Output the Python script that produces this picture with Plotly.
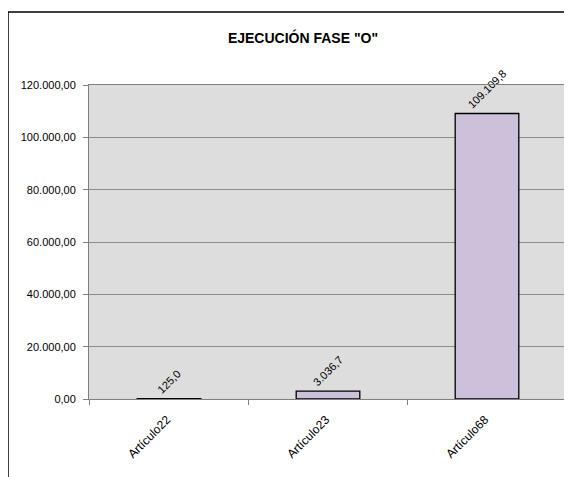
import plotly.graph_objects as go

categories = ["Artículo22", "Artículo23", "Artículo68"]
values = [125.0, 3036.7, 109109.8]
y_ticks = [0, 20000, 40000, 60000, 80000, 100000, 120000]

# page is rendered with an 8px body margin, so figure coords = page coords - 8
W, H = 564, 469
L, R, T, B = 81, 5, 77, 78
pw, ph = W - L - R, H - T - B
FONT = "Liberation Sans, Arial"

def px_x(x):
    return (x - L) / pw

def px_y(y):
    return (H - B - y) / ph

fig = go.Figure(go.Bar(
    x=categories, y=values,
    marker=dict(color="#CCC0DA", line=dict(color="#000000", width=1.3)),
    texttemplate="%{y:,.1f}", textposition="outside", textangle=-45,
    textfont=dict(family=FONT, size=11, color="#000000"),
    cliponaxis=False, width=0.4,
))

fig.update_layout(
    width=W, height=H,
    margin=dict(l=L, r=R, t=T, b=B),
    paper_bgcolor="white", plot_bgcolor="#DDDDDD",
    separators=",.",
    showlegend=False,
    font=dict(family=FONT, size=11, color="#000000"),
    title=dict(text='<b>EJECUCIÓN FASE "O"</b>', x=295 / W, xanchor="center",
               y=1 - 30 / H, yanchor="middle", yref="container",
               font=dict(size=14, family=FONT, color="#000000")),
    xaxis=dict(tickangle=-45, showline=True, linecolor="#808080", linewidth=1,
               ticks="", showgrid=False, mirror=True,
               tickfont=dict(size=12), ticklabelstandoff=8, ticklabelshift=-2),
    yaxis=dict(range=[0, 120000], tickvals=y_ticks, tickformat=",.2f",
               showgrid=True, gridcolor="#8C8C8C", gridwidth=1,
               showline=True, linecolor="#808080", linewidth=1, mirror=True,
               ticks="outside", ticklen=5, tickcolor="#808080",
               zeroline=True, zerolinecolor="#000000", zerolinewidth=1,
               tickfont=dict(size=11), ticklabelstandoff=5),
    shapes=[
        dict(type="rect", xref="paper", yref="paper",
             x0=px_x(0), x1=px_x(580), y0=px_y(485), y1=px_y(4),
             line=dict(color="#000000", width=1.5), fillcolor="rgba(0,0,0,0)",
             layer="below"),
    ] + [
        dict(type="line", xref="x", yref="paper", x0=i - 0.5, x1=i - 0.5,
             y0=0, y1=-6 / ph, line=dict(color="#808080", width=1))
        for i in range(len(categories) + 1)
    ],
)

fig.write_html("out.html")
